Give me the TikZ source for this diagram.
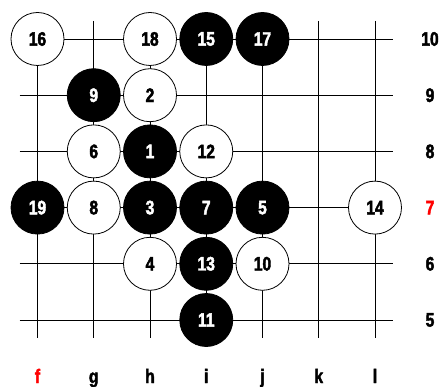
\documentclass[tikz,border=0pt]{standalone}
\usepackage{fontspec}
\newfontfamily\lblfont[FakeStretch=0.8, FakeBold=2.2]{Liberation Sans Bold}
\tikzset{
  gridline/.style={line width=0.9pt, black},
  stone/.style={circle, minimum size=53pt, inner sep=0pt, line width=0.8pt,
    font=\lblfont\fontsize{19.5}{19.5}\selectfont},
  wst/.style={stone, draw=black, fill=white, text=black},
  bst/.style={stone, draw=black, fill=black, text=white},
  lbl/.style={inner sep=0pt, font=\lblfont\fontsize{19.5}{19.5}\selectfont},
}
\begin{document}
\begin{tikzpicture}[x=1pt,y=-1pt]
\useasboundingbox (0,0) rectangle (444,387);
\foreach \c [count=\i from 0] in {f,g,h,i,j,k,l}
  \foreach \r [count=\j from 0] in {10,9,8,7,6,5}
    \coordinate (\c\r) at ({37.5+56.25*\i},{39+56.2*\j});
% grid
\foreach \c in {f,g,h,i,j,k,l}
  \draw[gridline] ([yshift=18pt]\c10) -- ([yshift=-18pt]\c5);
\foreach \r in {10,9,8,7,6,5}
  \draw[gridline] ([xshift=-18pt]f\r) -- ([xshift=18pt]l\r);
% stones
\node[wst] (s16) at (f10) {16};
\node[wst] (s18) at (h10) {18};
\node[bst] (s15) at (i10) {15};
\node[bst] (s17) at (j10) {17};
\node[bst] (s9) at (g9) {9};
\node[wst] (s2) at (h9) {2};
\node[wst] (s6) at (g8) {6};
\node[bst] (s1) at (h8) {1};
\node[wst] (s12) at (i8) {12};
\node[bst] (s19) at (f7) {19};
\node[wst] (s8) at (g7) {8};
\node[bst] (s3) at (h7) {3};
\node[bst] (s7) at (i7) {7};
\node[bst] (s5) at (j7) {5};
\node[wst] (s14) at (l7) {14};
\node[wst] (s4) at (h6) {4};
\node[bst] (s13) at (i6) {13};
\node[wst] (s10) at (j6) {10};
\node[bst] (s11) at (i5) {11};
% row labels
\foreach \r in {10,9,8,6,5}
  \node[lbl] (row\r) at ([xshift=55pt]l\r) {\r};
\node[lbl, text=red] (row7) at ([xshift=55pt]l7) {7};
% column labels
\node[lbl, text=red, anchor=base] (colf) at (f10 |- 0,383) {f};
\foreach \c in {g,h,i,j,k,l}
  \node[lbl, anchor=base] (col\c) at (\c10 |- 0,383) {\c};
\end{tikzpicture}
\end{document}
